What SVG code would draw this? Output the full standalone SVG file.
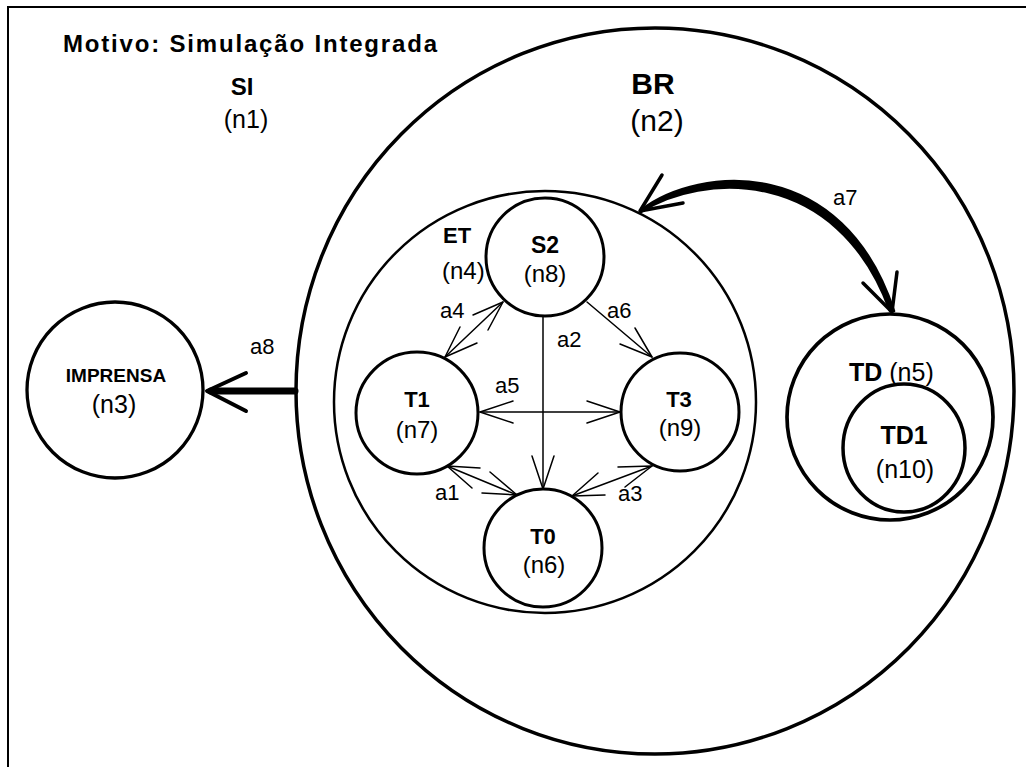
<svg xmlns="http://www.w3.org/2000/svg" width="1026" height="767" viewBox="0 0 1026 767">
  <style>
    text { font-family: "Liberation Sans", Arial, sans-serif; fill: #000; }
    .b { font-weight: bold; }
    .c { text-anchor: middle; }
    .lbl { font-size: 22px; }
    .node { fill: none; stroke: #000; }
    .thin { fill: none; stroke: #000; stroke-width: 1.5; stroke-linecap: round; stroke-linejoin: round; }
    .thick { fill: none; stroke: #000; stroke-linecap: round; stroke-linejoin: round; }
  </style>
  <rect width="1026" height="767" fill="#fff"/>

  <!-- n1: outer frame with title -->
  <g id="n1">
    <path d="M 1026 7 L 8 7 L 8 767" fill="none" stroke="#000" stroke-width="2"/>
    <text class="b c" x="250" y="52" font-size="24" textLength="374" lengthAdjust="spacing">Motivo: Simulação Integrada</text>
    <text class="b c" x="242" y="95" font-size="24">SI</text>
    <text class="c" x="246" y="128" font-size="25">(n1)</text>
  </g>

  <!-- n2: BR -->
  <g id="n2">
    <ellipse class="node" cx="655" cy="391" rx="359" ry="363" stroke-width="3.5"/>
    <text class="b c" x="653" y="94" font-size="30">BR</text>
    <text class="c" x="657" y="131" font-size="30">(n2)</text>
  </g>

  <!-- n3: IMPRENSA -->
  <g id="n3">
    <circle class="node" cx="115" cy="390" r="88" stroke-width="3.3"/>
    <text class="b c" x="116" y="382" font-size="19">IMPRENSA</text>
    <text class="c" x="114" y="413" font-size="25">(n3)</text>
  </g>

  <!-- n4: ET -->
  <g id="n4">
    <circle class="node" cx="545" cy="402" r="211" stroke-width="2.5"/>
    <text class="b" x="443" y="243" font-size="22">ET</text>
    <text x="442" y="279" font-size="24">(n4)</text>
  </g>

  <!-- n5: TD -->
  <g id="n5">
    <circle class="node" cx="890" cy="417" r="103" stroke-width="3.7"/>
    <text x="849" y="381" font-size="25"><tspan class="b">TD</tspan> (n5)</text>
  </g>

  <!-- n10: TD1 inside TD -->
  <g id="n10">
    <ellipse class="node" cx="904" cy="448" rx="61" ry="64" stroke-width="3.5"/>
    <text class="b c" x="904" y="444" font-size="25">TD1</text>
    <text class="c" x="905" y="478" font-size="25">(n10)</text>
  </g>

  <!-- n8: S2 -->
  <g id="n8">
    <circle class="node" cx="545" cy="257" r="59" stroke-width="3"/>
    <text class="b c" x="545" y="253" font-size="23">S2</text>
    <text class="c" x="545" y="282" font-size="24">(n8)</text>
  </g>

  <!-- n7: T1 -->
  <g id="n7">
    <circle class="node" cx="417" cy="413" r="61" stroke-width="3"/>
    <text class="b c" x="417" y="407" font-size="22">T1</text>
    <text class="c" x="417" y="438" font-size="24">(n7)</text>
  </g>

  <!-- n9: T3 -->
  <g id="n9">
    <circle class="node" cx="680" cy="412" r="59" stroke-width="3"/>
    <text class="b c" x="679" y="407" font-size="22">T3</text>
    <text class="c" x="680" y="436" font-size="24">(n9)</text>
  </g>

  <!-- n6: T0 -->
  <g id="n6">
    <circle class="node" cx="543" cy="548" r="59" stroke-width="3"/>
    <text class="b c" x="543" y="544" font-size="22">T0</text>
    <text class="c" x="544" y="573" font-size="24">(n6)</text>
  </g>

  <!-- connectors -->
  <g id="connectors">
    <!-- a4: S2 <-> T1 -->
    <line class="thin" x1="503" y1="302" x2="445" y2="357"/>
    <polyline class="thin" points="473,315 503,302 488,330"/>
    <polyline class="thin" points="460,327 445,357 477,343"/>
    <text class="lbl" x="440" y="318">a4</text>

    <!-- a6: S2 -> T3 -->
    <line class="thin" x1="587" y1="302" x2="652" y2="357"/>
    <polyline class="thin" points="635,328 652,357 620,344"/>
    <text class="lbl" x="607" y="318">a6</text>

    <!-- a2: S2 -> T0 -->
    <line class="thin" x1="543" y1="317" x2="543" y2="489"/>
    <polyline class="thin" points="532,456 543,489 554,456"/>
    <text class="lbl" x="557" y="347">a2</text>

    <!-- a5: T1 <-> T3 -->
    <line class="thin" x1="480" y1="412" x2="620" y2="412"/>
    <polyline class="thin" points="513,401 480,412 513,423"/>
    <polyline class="thin" points="587,401 620,412 587,423"/>
    <text class="lbl" x="495" y="393">a5</text>

    <!-- a1: T1 <-> T0 -->
    <line class="thin" x1="447" y1="466" x2="517" y2="495"/>
    <polyline class="thin" points="480,468 447,466 472,488"/>
    <polyline class="thin" points="490,472 517,495 482,493"/>
    <text class="lbl" x="435" y="500">a1</text>

    <!-- a3: T0 <-> T3 -->
    <line class="thin" x1="572" y1="496" x2="652" y2="466"/>
    <polyline class="thin" points="598,473 572,496 605,495"/>
    <polyline class="thin" points="618,467 652,466 625,487"/>
    <text class="lbl" x="618" y="501">a3</text>

    <!-- a8: BR -> IMPRENSA -->
    <line class="thick" x1="211" y1="391" x2="295" y2="391" stroke-width="7" stroke-linecap="butt"/>
    <polyline class="thick" points="246,373 207,391 246,411" stroke-width="4"/>
    <text class="lbl" x="250" y="354">a8</text>

    <!-- a7: ET <-> TD, tapered curve -->
    <path d="M 641 210 C 700 165, 843 155, 894 311 L 890 311 C 837 165, 701 173, 641 212 Z" fill="#000" stroke="#000" stroke-width="2.5" stroke-linejoin="round"/>
    <polyline class="thick" points="662,175 640,211 683,203" stroke-width="3.5"/>
    <polyline class="thick" points="897,272 892,312 863,283" stroke-width="3.5"/>
    <text class="lbl" x="833" y="205">a7</text>
  </g>
</svg>
